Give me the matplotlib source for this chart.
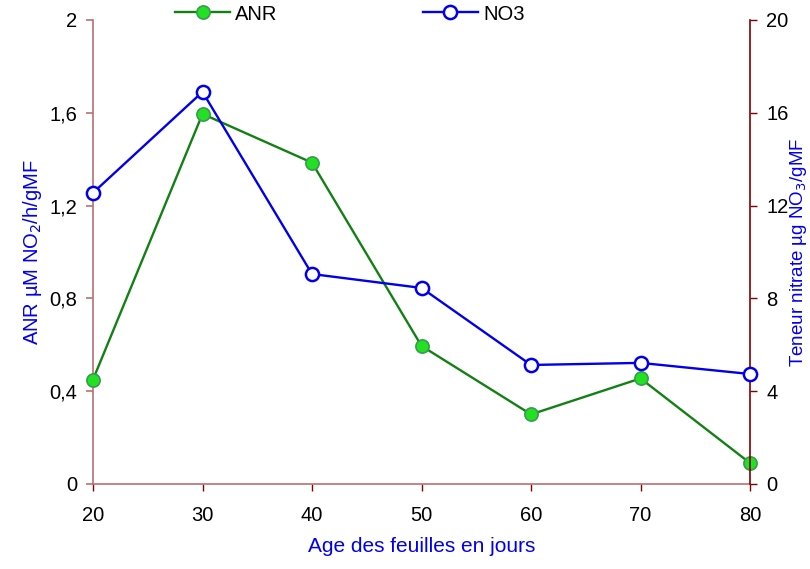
import matplotlib.pyplot as plt

plt.rcParams['font.family'] = ['Liberation Sans', 'DejaVu Sans']

age = [20, 30, 40, 50, 60, 70, 80]
anr = [0.45, 1.595, 1.385, 0.595, 0.30, 0.455, 0.09]
no3 = [12.55, 16.9, 9.05, 8.45, 5.13, 5.22, 4.74]

left_ticks = [0, 0.4, 0.8, 1.2, 1.6, 2]
left_labels = ['0', '0,4', '0,8', '1,2', '1,6', '2']
right_ticks = [0, 4, 8, 12, 16, 20]

spine_light = '#b87272'
spine_dark = '#800000'
blue = '#0000ee'

fig = plt.figure(figsize=(8.1, 5.69), dpi=100)
ax = fig.add_axes([0.1148, 0.1494, 0.8112, 0.8155])
ax2 = ax.twinx()

l1, = ax.plot(age, anr, color='#138013', lw=1.7, marker='o', ms=9.5,
              markerfacecolor='#22e022', markeredgecolor='#3a9a50', mew=1.2,
              label='ANR', zorder=3, clip_on=False)
l2, = ax2.plot(age, no3, color=blue, lw=1.7, marker='o', ms=9.5,
               markerfacecolor='white', markeredgecolor=blue, mew=1.8,
               label='NO3', zorder=3, clip_on=False)

ax.set_xlim(20, 80)
ax.set_ylim(0, 2)
ax2.set_ylim(0, 20)
ax.set_xticks(age)
ax.set_yticks(left_ticks)
ax.set_yticklabels(left_labels)
ax2.set_yticks(right_ticks)

for a in (ax, ax2):
    a.spines['top'].set_visible(False)
ax.spines['left'].set_color(spine_light)
ax.spines['bottom'].set_color(spine_light)
ax.spines['right'].set_visible(False)
ax2.spines['left'].set_visible(False)
ax2.spines['bottom'].set_visible(False)
ax2.spines['right'].set_color(spine_dark)
for s in (ax.spines['left'], ax.spines['bottom'], ax2.spines['right']):
    s.set_linewidth(1.2)

ax.tick_params(axis='y', colors=spine_light, labelcolor='black', labelsize=14.5, length=5, width=1.2, pad=6.5)
ax.tick_params(axis='x', colors=spine_dark, labelcolor='black', labelsize=14.5, length=5, width=1, pad=11)
ax2.tick_params(axis='y', colors=spine_dark, labelcolor='black', labelsize=14.5, length=5, width=1, pad=6.5)

ax.set_xlabel('Age des feuilles en jours', color=blue, fontsize=15)
ax.xaxis.set_label_coords(0.5, -0.115)
ax.set_ylabel('ANR µM NO$_2$/h/gMF', color=blue, fontsize=14.5)
ax.yaxis.set_label_coords(-0.074, 0.5)
ax2.set_ylabel('Teneur nitrate µg NO$_3$/gMF', color=blue, fontsize=13.5)
ax2.yaxis.set_label_coords(1.057, 0.5)

fig.legend(handles=[l1, l2], loc='center left', bbox_to_anchor=(175 / 810, 1 - 14 / 569), ncol=2,
           frameon=False, fontsize=14.5, columnspacing=7.2, handlelength=2.75, handletextpad=0.25,
           borderpad=0, borderaxespad=0)

fig.savefig('out.png', dpi=100)
